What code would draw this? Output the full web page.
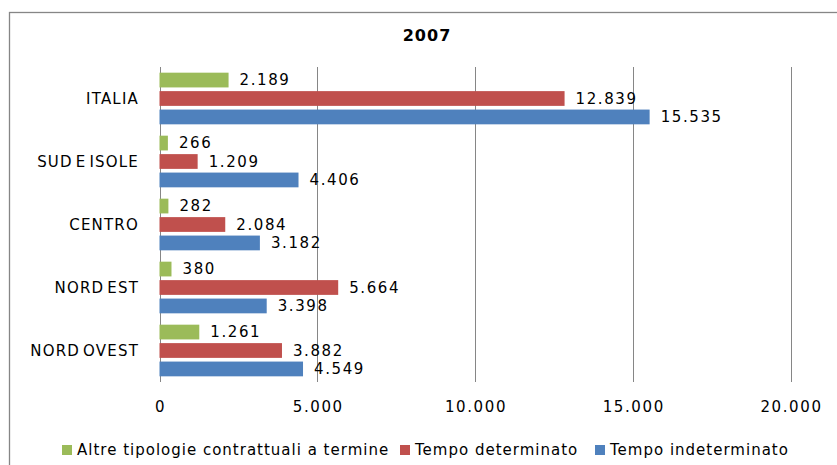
<!DOCTYPE html>
<html>
<head>
<meta charset="utf-8">
<script src="https://cdn.jsdelivr.net/npm/d3@7"></script>
<style>
  body { margin: 0; background: #fff; }
  text { font-family: "DejaVu Sans", sans-serif; fill: #000; }
</style>
</head>
<body>
<div id="wrapper"></div>
<script>
const categories = ["ITALIA", "SUD E ISOLE", "CENTRO", "NORD EST", "NORD OVEST"];
const seriesNames = [
  "Altre tipologie contrattuali a termine",
  "Tempo determinato",
  "Tempo indeterminato",
];
const altreValues = [2189, 266, 282, 380, 1261];
const determinatoValues = [12839, 1209, 2084, 5664, 3882];
const indeterminatoValues = [15535, 4406, 3182, 3398, 4549];
const xTicks = [0, 5000, 10000, 15000, 20000];
const colors = ["#9BBB59", "#C0504D", "#4F81BD"];

const itLocale = d3.formatLocale({
  decimal: ",",
  thousands: ".",
  grouping: [3],
  currency: ["€", ""],
});
const fmt = itLocale.format(",d");

const dataset = categories.map((cat, i) => ({
  cat,
  values: [altreValues[i], determinatoValues[i], indeterminatoValues[i]],
}));

const dimensions = {
  width: 837,
  height: 465,
  margin: { top: 67, right: 47, bottom: 83, left: 159 },
};
dimensions.boundedWidth =
  dimensions.width - dimensions.margin.left - dimensions.margin.right;
dimensions.boundedHeight =
  dimensions.height - dimensions.margin.top - dimensions.margin.bottom;

const wrapper = d3
  .select("#wrapper")
  .append("svg")
  .attr("width", dimensions.width)
  .attr("height", dimensions.height);

// chart frame (cut off on right and bottom like the source)
wrapper
  .append("rect")
  .attr("x", 9.5)
  .attr("y", 12.5)
  .attr("width", 900)
  .attr("height", 600)
  .attr("fill", "none")
  .attr("stroke", "#868686")
  .attr("stroke-width", 1.3);

wrapper
  .append("text")
  .attr("x", 427)
  .attr("y", 41)
  .attr("text-anchor", "middle")
  .style("font-size", "16px")
  .style("font-weight", "bold")
  .style("letter-spacing", "1px")
  .text("2007");

const bounds = wrapper
  .append("g")
  .attr(
    "transform",
    `translate(${dimensions.margin.left},${dimensions.margin.top})`
  );

const xScale = d3
  .scaleLinear()
  .domain([0, 20000])
  .range([0.5, dimensions.boundedWidth + 0.5]);

const yScale = d3
  .scaleBand()
  .domain(categories)
  .range([0, dimensions.boundedHeight])
  .paddingInner(0.18)
  .paddingOuter(0.09);

const ySeries = d3
  .scaleBand()
  .domain(d3.range(3))
  .range([0, yScale.bandwidth()])
  .paddingInner(0.2);

// gridlines
bounds
  .selectAll(".grid")
  .data(xTicks)
  .join("line")
  .attr("class", "grid")
  .attr("x1", (d) => Math.round(xScale(d)) + 0.5)
  .attr("x2", (d) => Math.round(xScale(d)) + 0.5)
  .attr("y1", 0)
  .attr("y2", dimensions.boundedHeight)
  .attr("stroke", "#868686")
  .attr("stroke-width", 1);

const groups = bounds
  .selectAll(".group")
  .data(dataset)
  .join("g")
  .attr("class", "group")
  .attr("transform", (d) => `translate(0,${yScale(d.cat)})`);

groups
  .selectAll("rect")
  .data((d) => d.values)
  .join("rect")
  .attr("x", xScale(0))
  .attr("y", (d, i) => ySeries(i))
  .attr("width", (d) => xScale(d) - xScale(0))
  .attr("height", ySeries.bandwidth())
  .attr("fill", (d, i) => colors[i]);

groups
  .selectAll(".value")
  .data((d) => d.values)
  .join("text")
  .attr("class", "value")
  .attr("x", (d) => xScale(d) + 11)
  .attr("y", (d, i) => ySeries(i) + ySeries.bandwidth() / 2)
  .attr("dy", "0.36em")
  .style("font-size", "15px")
  .style("letter-spacing", "1.6px")
  .text((d) => fmt(d));

// category labels
bounds
  .selectAll(".cat")
  .data(categories)
  .join("text")
  .attr("class", "cat")
  .attr("x", -20)
  .attr("y", (d) => yScale(d) + yScale.bandwidth() / 2)
  .attr("dy", "0.36em")
  .attr("text-anchor", "end")
  .style("font-size", "15px")
  .style("letter-spacing", "1.2px")
  .style("word-spacing", "-3px")
  .text((d) => d);

// x tick labels
bounds
  .selectAll(".tick-label")
  .data(xTicks)
  .join("text")
  .attr("class", "tick-label")
  .attr("x", (d) => xScale(d) + 1)
  .attr("y", dimensions.boundedHeight + 25)
  .attr("dy", "0.36em")
  .attr("text-anchor", "middle")
  .style("font-size", "15px")
  .style("letter-spacing", "1.6px")
  .text((d) => fmt(d));

// legend
const legendX = [62, 400, 595];
const legend = wrapper
  .selectAll(".legend")
  .data(seriesNames)
  .join("g")
  .attr("class", "legend")
  .attr("transform", (d, i) => `translate(${legendX[i]},450)`);

legend
  .append("rect")
  .attr("x", 0)
  .attr("y", -5)
  .attr("width", 10)
  .attr("height", 10)
  .attr("fill", (d, i) => colors[i]);

legend
  .append("text")
  .attr("x", 15)
  .attr("y", 0)
  .attr("dy", "0.36em")
  .style("font-size", "15px")
  .style("letter-spacing", "1px")
  .text((d) => d);
</script>
</body>
</html>
